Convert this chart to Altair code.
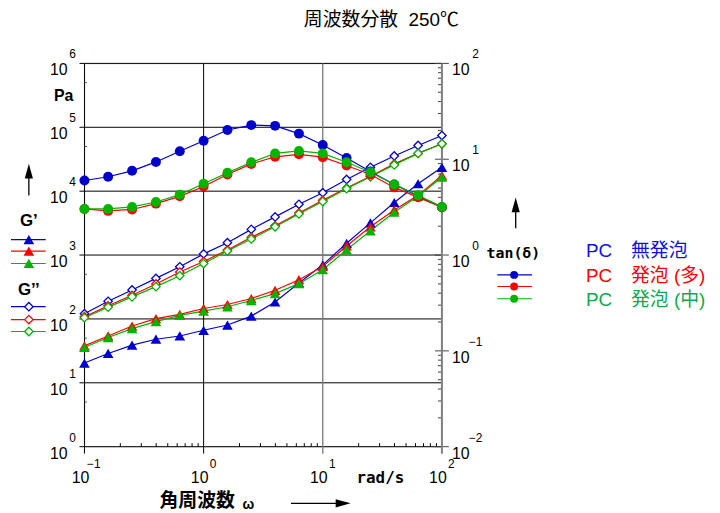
import altair as alt
import pandas as pd

# ---------------- data ----------------
omega = [0.1, 0.158, 0.251, 0.398, 0.631, 1.0, 1.585, 2.512, 3.981, 6.31,
         10.0, 15.85, 25.12, 39.81, 63.1, 100.0]
series_names = ["無発泡", "発泡(多)", "発泡(中)"]

gp_blue = [20.4, 28.8, 38.8, 48.1, 54.1, 66.4, 80.2, 110.7, 184, 366, 703, 1528, 3192, 6648, 13060, 23660]
gp_red = [37.8, 54.1, 77.4, 100.9, 117.7, 145.8, 168.2, 208.5, 280.5, 411.5, 662, 1387, 2767, 5082, 8596, 17580]
gp_green = [35.7, 51.1, 70.5, 90.6, 113.5, 132.4, 154.9, 194.1, 249.4, 356.5, 588.6, 1203, 2399, 4677, 8299, 16540]

gpp_blue = [120.5, 189, 284, 431, 655, 1042, 1562, 2523, 3956, 6237, 9468, 15240, 23660, 35560, 51990, 74300]
gpp_red = [108.3, 160.6, 234.6, 352.5, 541.8, 791, 1203, 1893, 2869, 4566, 7194, 11170, 17140, 26720, 39010, 55210]
gpp_green = [104.5, 152.8, 221.4, 320, 474.5, 736.6, 1161, 1783, 2767, 4406, 6867, 10930, 16790, 25780, 39010, 55210]

tan_blue = [6.0, 6.56, 7.57, 9.37, 12.1, 15.6, 20.2, 22.7, 22.3, 18.5, 14.1, 10.3, 7.45, 5.46, 4.10, 3.15]
tan_red = [3.03, 2.89, 2.99, 3.44, 4.10, 5.20, 6.93, 8.93, 10.6, 11.25, 10.5, 8.59, 6.93, 5.08, 4.0, 3.15]
tan_green = [3.03, 3.03, 3.18, 3.58, 4.27, 5.55, 7.21, 9.29, 11.5, 12.2, 11.5, 9.29, 7.31, 5.46, 4.20, 3.18]

# axis tick values / labels
x_major = [0.1, 1, 10, 100]
x_exp = ["\u22121", "0", "1", "2"]
left_major = [1, 10, 100, 1e3, 1e4, 1e5, 1e6]
left_exp = ["0", "1", "2", "3", "4", "5", "6"]
tan_major = [0.01, 0.1, 1, 10, 100]
tan_exp = ["\u22122", "\u22121", "0", "1", "2"]
x_minor = [m * 10.0 ** e for e in (-1, 0, 1) for m in range(2, 10)]
tan_minor = [m * 10.0 ** e for e in (-2, -1, 0, 1) for m in range(2, 10)]
left_minor = [5 * 10.0 ** e for e in range(0, 6)]

legend_labels = ["PC\u3000無発泡", "PC\u3000発泡 (多)", "PC\u3000発泡 (中)"]
title_text = "周波数分散\u00a0\u00a0250\u2103"

# ---------------- style ----------------
BLUE, RED, GREEN = "#0000cc", "#ff0000", "#00b400"
TXT_BLUE, TXT_RED, TXT_GREEN = "#1010e0", "#ff0000", "#10a850"
NUM_FONT = "Liberation Sans"
JP_FONT = "Noto Sans CJK JP"
MIX_FONT = "Liberation Sans, Noto Sans CJK JP"
MONO = "DejaVu Sans Mono"

W, H = 360, 386
xs = alt.Scale(type="log", domain=[0.1, 100], nice=False)
ys = alt.Scale(type="log", domain=[1, 1e6], nice=False)
ts = alt.Scale(type="log", domain=[0.01, 100], nice=False)
cs = alt.Scale(domain=series_names, range=[BLUE, RED, GREEN])


def X(f):
    return alt.X(f, type="quantitative", scale=xs, axis=None)


def YL(f):
    return alt.Y(f, type="quantitative", scale=ys, axis=None)


def YT(f):
    return alt.Y(f, type="quantitative", scale=ts, axis=None)


def series_df(vals_list):
    rows = []
    for name, vals in zip(series_names, vals_list):
        for w, v in zip(omega, vals):
            rows.append({"omega": w, "val": v, "series": name})
    return pd.DataFrame(rows)


one = pd.DataFrame({"a": [0]})
layers = []

# ---------------- grid & frame ----------------
hgrid = pd.DataFrame({"y": left_major, "x0": 0.1, "x1": 100})
layers.append(alt.Chart(hgrid).mark_rule(color="black", strokeWidth=1, xOffset=-5)
              .encode(x=X("x0"), x2="x1", y=YL("y")))

vgrid_black = pd.DataFrame({"x": [0.1, 1], "y0": 1, "y1": 1e6})
layers.append(alt.Chart(vgrid_black).mark_rule(color="black", strokeWidth=1, yOffset=7)
              .encode(x=X("x"), y=YL("y0"), y2="y1"))
vgrid_gray = pd.DataFrame({"x": [10], "y0": 1, "y1": 1e6})
layers.append(alt.Chart(vgrid_gray).mark_rule(color="#777777", strokeWidth=1.3, yOffset=7)
              .encode(x=X("x"), y=YL("y0"), y2="y1"))

xminor_df = pd.DataFrame({"x": x_minor, "y0": 1})
layers.append(alt.Chart(xminor_df).mark_rule(color="black", strokeWidth=1, y2Offset=-3.5)
              .encode(x=X("x"), y=YL("y0"), y2="y0"))

lminor_df = pd.DataFrame({"y": left_minor, "x0": 0.1})
layers.append(alt.Chart(lminor_df).mark_rule(color="#555555", strokeWidth=1, x2Offset=2.5)
              .encode(x=X("x0"), x2="x0", y=YL("y")))

tminor_df = pd.DataFrame({"y": tan_minor, "x0": 100})
layers.append(alt.Chart(tminor_df).mark_rule(color="#444444", strokeWidth=1, xOffset=-4)
              .encode(x=X("x0"), x2="x0", y=YT("y")))
tmajor_df = pd.DataFrame({"y": tan_major, "x0": 100})
layers.append(alt.Chart(tmajor_df).mark_rule(color="#444444", strokeWidth=1, xOffset=-7, x2Offset=7)
              .encode(x=X("x0"), x2="x0", y=YT("y")))

rframe = pd.DataFrame({"x": [100], "y0": 1, "y1": 1e6})
layers.append(alt.Chart(rframe).mark_rule(color="#808080", strokeWidth=2, yOffset=7)
              .encode(x=X("x"), y=YL("y0"), y2="y1"))

# ---------------- axis labels ----------------
left_df = pd.DataFrame({"y": left_major, "e": left_exp, "x0": 0.1, "t": "10"})
layers.append(alt.Chart(left_df).mark_text(align="right", baseline="middle", dx=-17, dy=7,
                                           fontSize=16, font=NUM_FONT, color="black")
              .encode(x=X("x0"), y=YL("y"), text="t:N"))
layers.append(alt.Chart(left_df).mark_text(align="center", baseline="middle", dx=-12, dy=-9,
                                           fontSize=12, font=NUM_FONT, color="black")
              .encode(x=X("x0"), y=YL("y"), text="e:N"))

bot_df = pd.DataFrame({"x": x_major, "e": x_exp, "y0": 1, "t": "10"})
layers.append(alt.Chart(bot_df).mark_text(align="center", baseline="middle", dx=-4, dy=32,
                                          fontSize=16, font=NUM_FONT, color="black")
              .encode(x=X("x"), y=YL("y0"), text="t:N"))
layers.append(alt.Chart(bot_df).mark_text(align="center", baseline="middle", dx=9.5, dy=17,
                                          fontSize=12, font=NUM_FONT, color="black")
              .encode(x=X("x"), y=YL("y0"), text="e:N"))

right_df = pd.DataFrame({"y": tan_major, "e": tan_exp, "x0": 100, "t": "10"})
layers.append(alt.Chart(right_df).mark_text(align="center", baseline="middle", dx=19, dy=7,
                                            fontSize=16, font=NUM_FONT, color="black")
              .encode(x=X("x0"), y=YT("y"), text="t:N"))
layers.append(alt.Chart(right_df).mark_text(align="center", baseline="middle", dx=34, dy=-9,
                                            fontSize=12, font=NUM_FONT, color="black")
              .encode(x=X("x0"), y=YT("y"), text="e:N"))

# ---------------- data series ----------------
gp = series_df([gp_blue, gp_red, gp_green])
gpp = series_df([gpp_blue, gpp_red, gpp_green])
tan = series_df([tan_blue, tan_red, tan_green])

col = alt.Color("series:N", scale=cs, legend=None)
layers.append(alt.Chart(gp).mark_line(strokeWidth=1.2).encode(x=X("omega"), y=YL("val"), color=col))
layers.append(alt.Chart(gp).mark_point(shape="triangle-up", filled=True, size=115, opacity=1)
              .encode(x=X("omega"), y=YL("val"), color=col))
layers.append(alt.Chart(gpp).mark_line(strokeWidth=1.2).encode(x=X("omega"), y=YL("val"), color=col))
layers.append(alt.Chart(gpp).mark_point(shape="diamond", filled=False, fill="white", fillOpacity=1,
                                        strokeWidth=1.3, size=72, opacity=1)
              .encode(x=X("omega"), y=YL("val"),
                      stroke=alt.Stroke("series:N", scale=cs, legend=None)))
layers.append(alt.Chart(tan).mark_line(strokeWidth=1.2).encode(x=X("omega"), y=YT("val"), color=col))
layers.append(alt.Chart(tan).mark_circle(size=100, opacity=1)
              .encode(x=X("omega"), y=YT("val"), color=col))

# ---------------- legends ----------------
def legend_row(color, y, shape, lx0, lx1, mx, msize, filled=True):
    out = [alt.Chart(one).mark_rule(color=color, strokeWidth=1.2)
           .encode(x=alt.value(lx0), x2=alt.value(lx1), y=alt.value(y))]
    if filled:
        out.append(alt.Chart(one).mark_point(shape=shape, filled=True, color=color, size=msize, opacity=1)
                   .encode(x=alt.value(mx), y=alt.value(y)))
    else:
        out.append(alt.Chart(one).mark_point(shape=shape, filled=False, fill="white", fillOpacity=1,
                                             stroke=color, strokeWidth=1.3, size=msize, opacity=1)
                   .encode(x=alt.value(mx), y=alt.value(y)))
    return out


for c, yy in zip([BLUE, RED, GREEN], [177.5, 189, 201.5]):
    layers += legend_row(c, yy, "triangle-up", -74, -39, -56, 115)
for c, yy in zip([BLUE, RED, GREEN], [245, 258, 270]):
    layers += legend_row(c, yy, "diamond", -74, -39, -56, 72, filled=False)
for c, yy in zip([BLUE, RED, GREEN], [213, 224.7, 237]):
    layers += legend_row(c, yy, "circle", 415.7, 450.7, 432.7, 64)


def text(t, x, y, size, font, color="black", weight="normal", align="center"):
    return (alt.Chart(one).mark_text(text=t, fontSize=size, font=font, color=color,
                                     fontWeight=weight, align=align, baseline="middle")
            .encode(x=alt.value(x), y=alt.value(y)))


layers.append(text(title_text, 299, -44, 19, MIX_FONT))
layers.append(text("Pa", -21, 33, 16, NUM_FONT, weight="bold"))
layers.append(text("G\u2019", -56, 159, 17, NUM_FONT, weight="bold"))
layers.append(text("G\u2019\u2019", -56, 228, 17, NUM_FONT, weight="bold"))
layers.append(text("tan(\u03b4)", 432, 191, 15, MONO, weight="bold"))
layers.append(text("rad/s", 298, 418, 16, MONO, weight="bold"))
layers.append(text("角周波数", 113.5, 441, 19, JP_FONT, weight="bold"))
layers.append(text("\u03c9", 165, 445, 14, NUM_FONT, weight="bold"))
for lab, c, yy in zip(legend_labels, [TXT_BLUE, TXT_RED, TXT_GREEN], [189, 214, 238]):
    layers.append(text(lab, 505, yy, 19, MIX_FONT, color=c, align="left"))

# ---------------- arrows ----------------
up_head = "M0,-1L0.55,1L-0.55,1Z"
right_head = "M1,0L-1,-0.55L-1,0.55Z"
layers.append(alt.Chart(one).mark_rule(color="black", strokeWidth=1.3)
              .encode(x=alt.value(-56), y=alt.value(114), y2=alt.value(133)))
layers.append(alt.Chart(one).mark_point(shape=up_head, filled=True, color="black", size=225, opacity=1)
              .encode(x=alt.value(-56), y=alt.value(108.5)))
layers.append(alt.Chart(one).mark_rule(color="black", strokeWidth=1.3)
              .encode(x=alt.value(434.3), y=alt.value(148), y2=alt.value(166)))
layers.append(alt.Chart(one).mark_point(shape=up_head, filled=True, color="black", size=225, opacity=1)
              .encode(x=alt.value(434.3), y=alt.value(142.5)))
layers.append(alt.Chart(one).mark_rule(color="black", strokeWidth=1.3)
              .encode(x=alt.value(208), x2=alt.value(255), y=alt.value(443)))
layers.append(alt.Chart(one).mark_point(shape=right_head, filled=True, color="black", size=225, opacity=1)
              .encode(x=alt.value(260.5), y=alt.value(443)))

chart = (alt.layer(*layers)
         .resolve_scale(y="independent")
         .properties(width=W, height=H,
                     autosize=alt.AutoSizeParams(type="none"),
                     padding={"left": 77, "top": 54, "right": 272, "bottom": 66})
         .configure_view(stroke=None)
         .configure(background="white"))

chart.save("out.html", embed_options={"renderer": "svg", "actions": False})
